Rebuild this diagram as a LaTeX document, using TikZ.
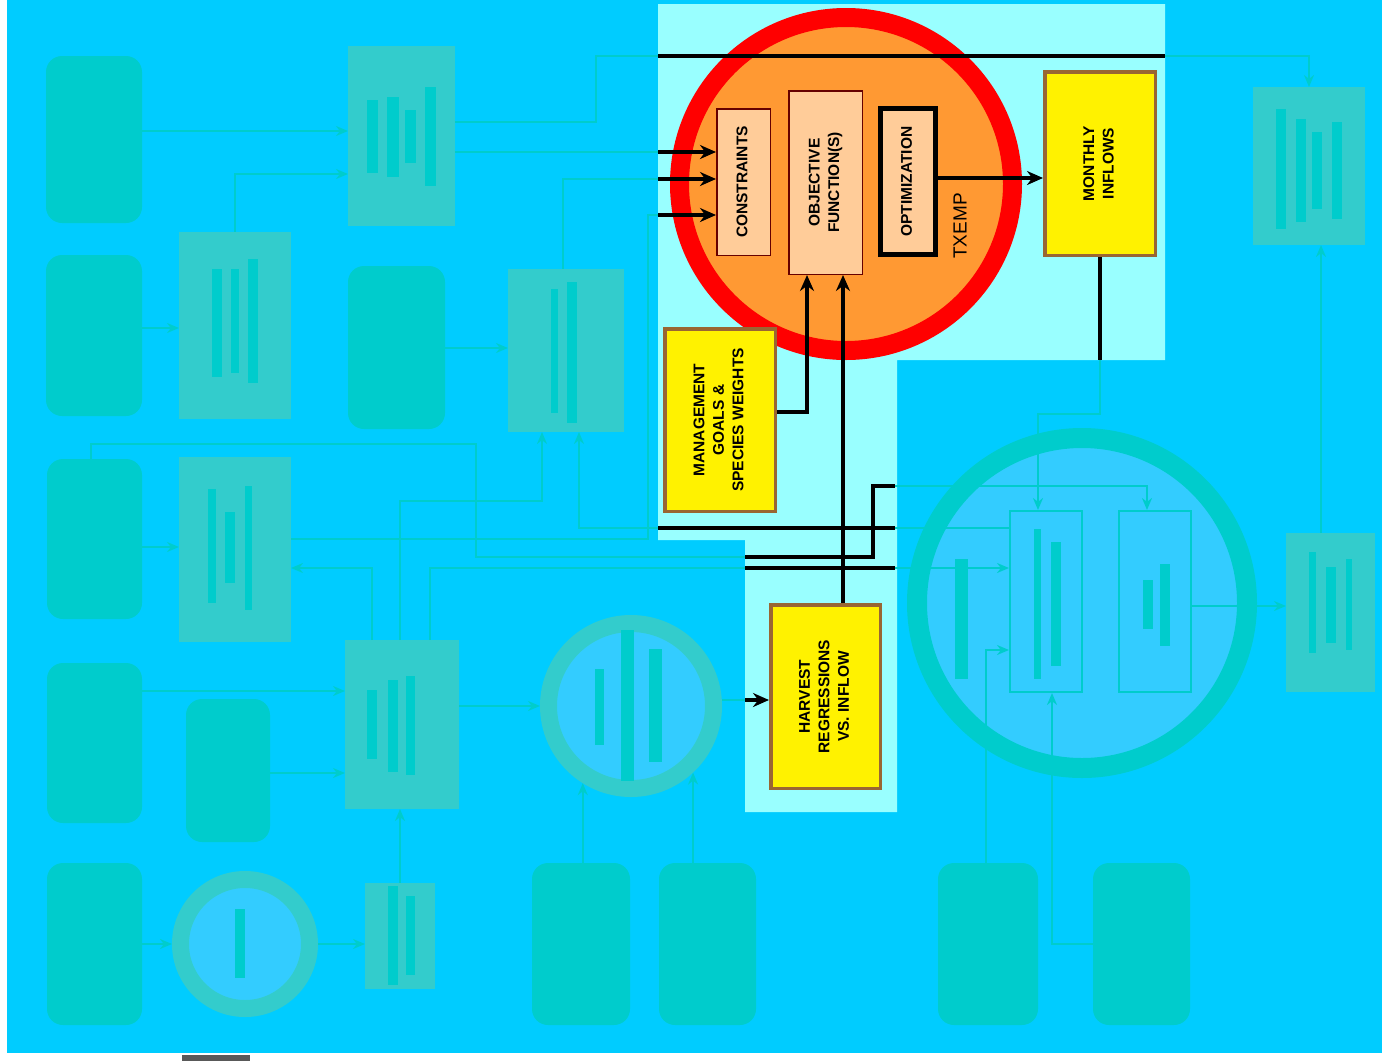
\documentclass[tikz,border=0pt]{standalone}
\usepackage{graphicx}
\usepackage{fontspec}
\setmainfont{Liberation Sans}
\usetikzlibrary{arrows.meta,positioning,calc}
\definecolor{skyback}{HTML}{00CCFF}
\definecolor{hilite}{HTML}{99FFFF}
\definecolor{tealdark}{HTML}{00CCCC}
\definecolor{teallight}{HTML}{33CCCC}
\definecolor{poolblue}{HTML}{33CCFF}
\definecolor{peach}{HTML}{FFCC99}
\definecolor{orangefill}{HTML}{FF9933}
\definecolor{brownedge}{HTML}{996633}
\newcommand{\vtext}[1]{\rotatebox{90}{\begin{tabular}{@{}c@{}}#1\end{tabular}}}
\newcommand{\lblfont}{\fontsize{15.5}{19.5}\selectfont\bfseries}
\newcommand{\bars}[1]{\foreach \xa/\ya/\xb/\yb in {#1} {\fill[tealdark] (\xa,\ya) rectangle (\xb,\yb);}}

\begin{document}
\begin{tikzpicture}[x=1pt, y=-1pt,
  tank/.style={fill=tealdark, rounded corners=16pt, inner sep=0pt, outer sep=0pt},
  model/.style={fill=teallight, inner sep=0pt, outer sep=0pt},
  pool/.style={circle, draw=teallight, fill=poolblue, line width=17pt, inner sep=0pt},
  inbox/.style={draw=tealdark, fill=poolblue, line width=2pt, inner sep=0pt},
  peachbox/.style={draw=black!60!red, fill=peach, line width=1.5pt, inner sep=0pt, font=\lblfont},
  goalbox/.style={draw=brownedge, fill=yellow, line width=3.5pt, inner sep=0pt, font=\lblfont},
  wire/.style={tealdark, line width=2.5pt},
  warrow/.style={wire, -{Stealth[length=12pt,width=10pt]}},
  bwire/.style={black, line width=4.5pt},
  barrow/.style={bwire, -{Stealth[length=16pt,width=14pt]}}]

\useasboundingbox (0,0) rectangle (1382,1061);
\fill[white] (0,0) rectangle (1382,1061);
\fill[skyback] (7,0) rectangle (1382,1053);
\fill[black!65] (182,1055) rectangle (250,1061);

% highlighted part of the model
\fill[hilite] (658,4) -- (1165,4) -- (1165,360) -- (897,360) -- (897,812)
  -- (745,812) -- (745,540) -- (658,540) -- cycle;

% Faded data tanks
\node[tank, minimum width=96pt, minimum height=167pt] (r1) at (94,139.5) {};
\node[tank, minimum width=96pt, minimum height=161pt] (r2) at (94,335.5) {};
\node[tank, minimum width=97pt, minimum height=163pt] (r2b) at (396.5,347.5) {};
\node[tank, minimum width=95pt, minimum height=160pt] (r3) at (94.5,539) {};
\node[tank, minimum width=95pt, minimum height=160pt] (r4) at (94.5,743) {};
\node[tank, minimum width=84pt, minimum height=143pt] (r4b) at (228,770.5) {};
\node[tank, minimum width=95pt, minimum height=162pt] (r5a) at (94.5,944) {};
\node[tank, minimum width=98pt, minimum height=162pt] (r5c) at (581,944) {};
\node[tank, minimum width=97pt, minimum height=162pt] (r5d) at (707.5,944) {};
\node[tank, minimum width=100pt, minimum height=162pt] (r6a) at (988,944) {};
\node[tank, minimum width=97pt, minimum height=162pt] (r6b) at (1141.5,944) {};

% Faded models
\node[model, minimum width=107pt, minimum height=180pt] (b1) at (401.5,136) {};
\node[model, minimum width=112pt, minimum height=187pt] (b2) at (235,325.5) {};
\node[model, minimum width=116pt, minimum height=163pt] (b4) at (566,350.5) {};
\node[model, minimum width=112pt, minimum height=185pt] (c1) at (235,549.5) {};
\node[model, minimum width=114pt, minimum height=169pt] (d1) at (402,724.5) {};
\node[model, minimum width=70pt, minimum height=106pt] (e1) at (400,936) {};
\node[model, minimum width=112pt, minimum height=158pt] (f1) at (1309,166) {};
\node[model, minimum width=89pt, minimum height=159pt] (f2) at (1330.5,612.5) {};
\node[pool, minimum size=165pt] (c2) at (631,706) {};
\node[pool, minimum size=129pt] (c3) at (245,944) {};
\node[pool, draw=tealdark, line width=20pt, minimum size=330pt] (bigpool) at (1082,603) {};
\node[inbox, minimum width=72pt, minimum height=181pt] (ir1) at (1046,601.5) {};
\node[inbox, minimum width=72pt, minimum height=181pt] (ir2) at (1155,601.5) {};

% bars
\bars{367/100/378/173, 387/97/399/177, 405/110/416/163, 425/87/436/186}
\bars{212/269/222/377, 231/269/239/373, 248/259/258/383}
\bars{551/289/558/413, 567/282/577/423}
\bars{208/489/216/603, 225/512/235/583, 245/486/252/610}
\bars{367/690/377/759, 388/680/398/772, 406/676/415/775}
\bars{388/886/398/985, 406/896/415/975}
\bars{595/669/604/745, 621/630/634/781, 649/649/662/762}
\bars{235/909/245/978, 955/559/968/679}
\bars{1034/529/1041/679, 1051/542/1061/666, 1143/580/1153/629, 1160/564/1170/646}
\bars{1276/109/1286/229, 1296/119/1306/222, 1312/132/1322/209, 1332/122/1342/219}
\bars{1309/552/1316/653, 1326/567/1336/643, 1346/559/1352/650}

% TXEMP
\node[circle, draw=red, fill=orangefill, line width=19pt, minimum size=333pt, inner sep=0pt] (txemp) at (846,184) {};
\node[peachbox, minimum width=53.5pt, minimum height=146.5pt] (cons) at (743.5,182) {\vtext{CONSTRAINTS}};
\node[peachbox, minimum width=73.5pt, minimum height=183.5pt] (obj) at (825.5,182.5) {\vtext{OBJECTIVE\\FUNCTION(S)}};
\node[peachbox, draw=black, line width=5pt, minimum width=55pt, minimum height=146pt] (opt) at (908,181.5) {\vtext{OPTIMIZATION}};
\node[rotate=90, font=\fontsize{19}{22}\selectfont] (txlabel) at (960,226) {TXEMP};
\node[goalbox, minimum width=110.5pt, minimum height=183.5pt] (inflow) at (1100,163.5) {\vtext{MONTHLY\\INFLOWS}};
\node[goalbox, minimum width=110.5pt, minimum height=182.5pt] (mgmt) at (720,420) {\vtext{MANAGEMENT\\GOALS \&\\SPECIES WEIGHTS}};
\node[goalbox, minimum width=109.5pt, minimum height=183.5pt] (harv) at (825.5,696.5) {\vtext{HARVEST\\REGRESSIONS\\VS. INFLOW}};

% Boundary points of the highlight
\coordinate (topL) at (658,56);
\coordinate (topR) at (1165,56);
\coordinate (cinA) at (658,152);
\coordinate (cinB) at (658,179);
\coordinate (cinC) at (658,215);
\coordinate (infB) at (1100,360);
\coordinate (outR) at (895,528);
\coordinate (outL) at (658,528);
\coordinate (d1R) at (895,568);
\coordinate (d1L) at (745,568);
\coordinate (r3L) at (745,557);
\coordinate (r3R) at (895,486);
\coordinate (hvin) at (745,700);

% Faded arrows
\draw[warrow] (r1.east |- 0,131) -- (b1.west |- 0,131);
\draw[warrow] (b2.north) |- (b1.west |- 0,174);
\draw[warrow] (r2.east |- 0,328) -- (b2.west |- 0,328);
\draw[warrow] (r2b.east |- 0,348) -- (b4.west |- 0,348);
\draw[wire] (b1.east |- 0,122) -| (596,56) -- (topL);
\draw[warrow] (topR) -| (f1.north);
\draw[wire] (b1.east |- cinA) -- (cinA);
\draw[wire] (b4.north -| 563,0) |- (cinB);
\draw[wire] (c1.east |- 0,539) -| (648,215) -- (cinC);
\draw[warrow] (infB) -- (1100,414) -| (ir1.north -| 1038,0);
\draw[warrow] (ir1.west |- outR) -- (579,528) -- (b4.south -| 579,0);
\draw[warrow] (d1.north -| 400,0) |- (542,501) -- (b4.south -| 542,0);
\draw[warrow] (d1.north -| 372,0) |- (c1.east |- 0,568);
\draw[warrow] (d1.north -| 430,0) |- (ir1.west |- d1R);
\draw[warrow] (r3.north -| 91,0) |- (476,444) |- (873,557) |- (1147,486) -- (ir2.north -| 1147,0);
\draw[warrow] (r6a.north -| 986,0) |- (ir1.west |- 0,650);
\draw[warrow] (r6b.west) -| (ir1.south -| 1052,0);
\draw[warrow] (ir2.east |- 0,606) -- (f2.west |- 0,606);
\draw[warrow] (f2.north -| 1321,0) -- (f1.south -| 1321,0);
\draw[warrow] (r3.east |- 0,547) -- (c1.west |- 0,547);
\draw[warrow] (r4.east |- 0,691) -- (d1.west |- 0,691);
\draw[warrow] (r4b.east |- 0,773) -- (d1.west |- 0,773);
\draw[warrow] (e1.north) -- (d1.south -| e1.north);
\draw[warrow] (d1.east |- c2.west) -- (c2.west);
\draw[warrow] (r5a.east) -- (c3.west);
\draw[warrow] (c3.east) -- (e1.west |- c3.east);
\draw[warrow] (c2.238 |- r5c.north) -- (c2.238);
\draw[warrow] (c2.313 |- r5d.north) -- (c2.313);
\draw[wire] (c2.east |- hvin) -- (hvin);

% Highlighted arrows
\draw[bwire] (topL) -- (topR);
\draw[barrow] (cinA) -- (cons.west |- cinA);
\draw[barrow] (cinB) -- (cons.west |- cinB);
\draw[barrow] (cinC) -- (cons.west |- cinC);
\draw[barrow] (opt.east |- 0,178) -- (inflow.west |- 0,178);
\draw[bwire] (inflow.south) -- (infB);
\draw[barrow] (mgmt.east |- 0,412) -| (obj.south -| 807,0);
\draw[barrow] (harv.north -| 843,0) -- (obj.south -| 843,0);
\draw[bwire] (outR) -- (outL);
\draw[bwire] (d1L) -- (d1R);
\draw[bwire] (r3L) -- (873,557) |- (r3R);
\draw[barrow] (hvin) -- (harv.west |- hvin);

\end{tikzpicture}
\end{document}
